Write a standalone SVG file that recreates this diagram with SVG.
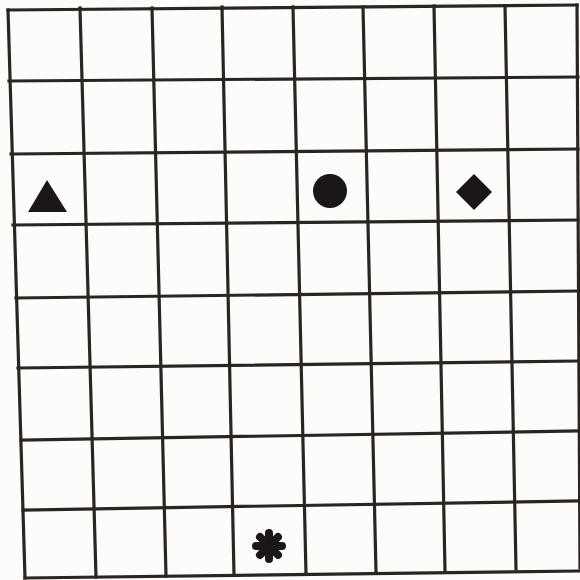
<svg xmlns="http://www.w3.org/2000/svg" width="580" height="580" viewBox="0 0 580 580">
<style>
.g line{stroke:#2b2522;stroke-width:3.2;stroke-linecap:square}
.sym{fill:#1a1716}
.ast line{stroke:#1a1716;stroke-width:8;stroke-linecap:round}
</style>
<rect width="580" height="580" fill="#fcfcfb"/>
<g id="grid" class="g">
<line x1="8" y1="10" x2="25" y2="578"/>
<line x1="80" y1="8" x2="96" y2="577"/>
<line x1="152" y1="8" x2="166" y2="576"/>
<line x1="222" y1="7" x2="234" y2="575"/>
<line x1="293" y1="7" x2="306" y2="574"/>
<line x1="363" y1="7" x2="376" y2="572"/>
<line x1="434" y1="6" x2="445" y2="571"/>
<line x1="505" y1="6" x2="516" y2="569"/>
<line x1="577" y1="5" x2="580" y2="568"/>
<line x1="8" y1="10" x2="577" y2="5"/>
<line x1="9" y1="81" x2="578" y2="77"/>
<line x1="11" y1="154" x2="578" y2="149"/>
<line x1="13" y1="225" x2="578" y2="220"/>
<line x1="16" y1="298" x2="578" y2="291"/>
<line x1="18" y1="368" x2="578" y2="361"/>
<line x1="21" y1="440" x2="578" y2="431"/>
<line x1="23" y1="510" x2="578" y2="501"/>
<line x1="25" y1="578" x2="580" y2="571"/>
</g>
<g id="triangle"><polygon class="sym" points="47,180 28,212 67,212"/></g>
<g id="circle"><circle class="sym" cx="330" cy="191" r="17"/></g>
<g id="diamond"><polygon class="sym" points="474,174 492,192 474,210 456,192"/></g>
<g id="asterisk" class="ast">
<line x1="269" y1="533" x2="269" y2="559"/>
<line x1="256" y1="546" x2="282" y2="546"/>
<line x1="260" y1="537" x2="278" y2="555"/>
<line x1="278" y1="537" x2="260" y2="555"/>
</g>
</svg>
